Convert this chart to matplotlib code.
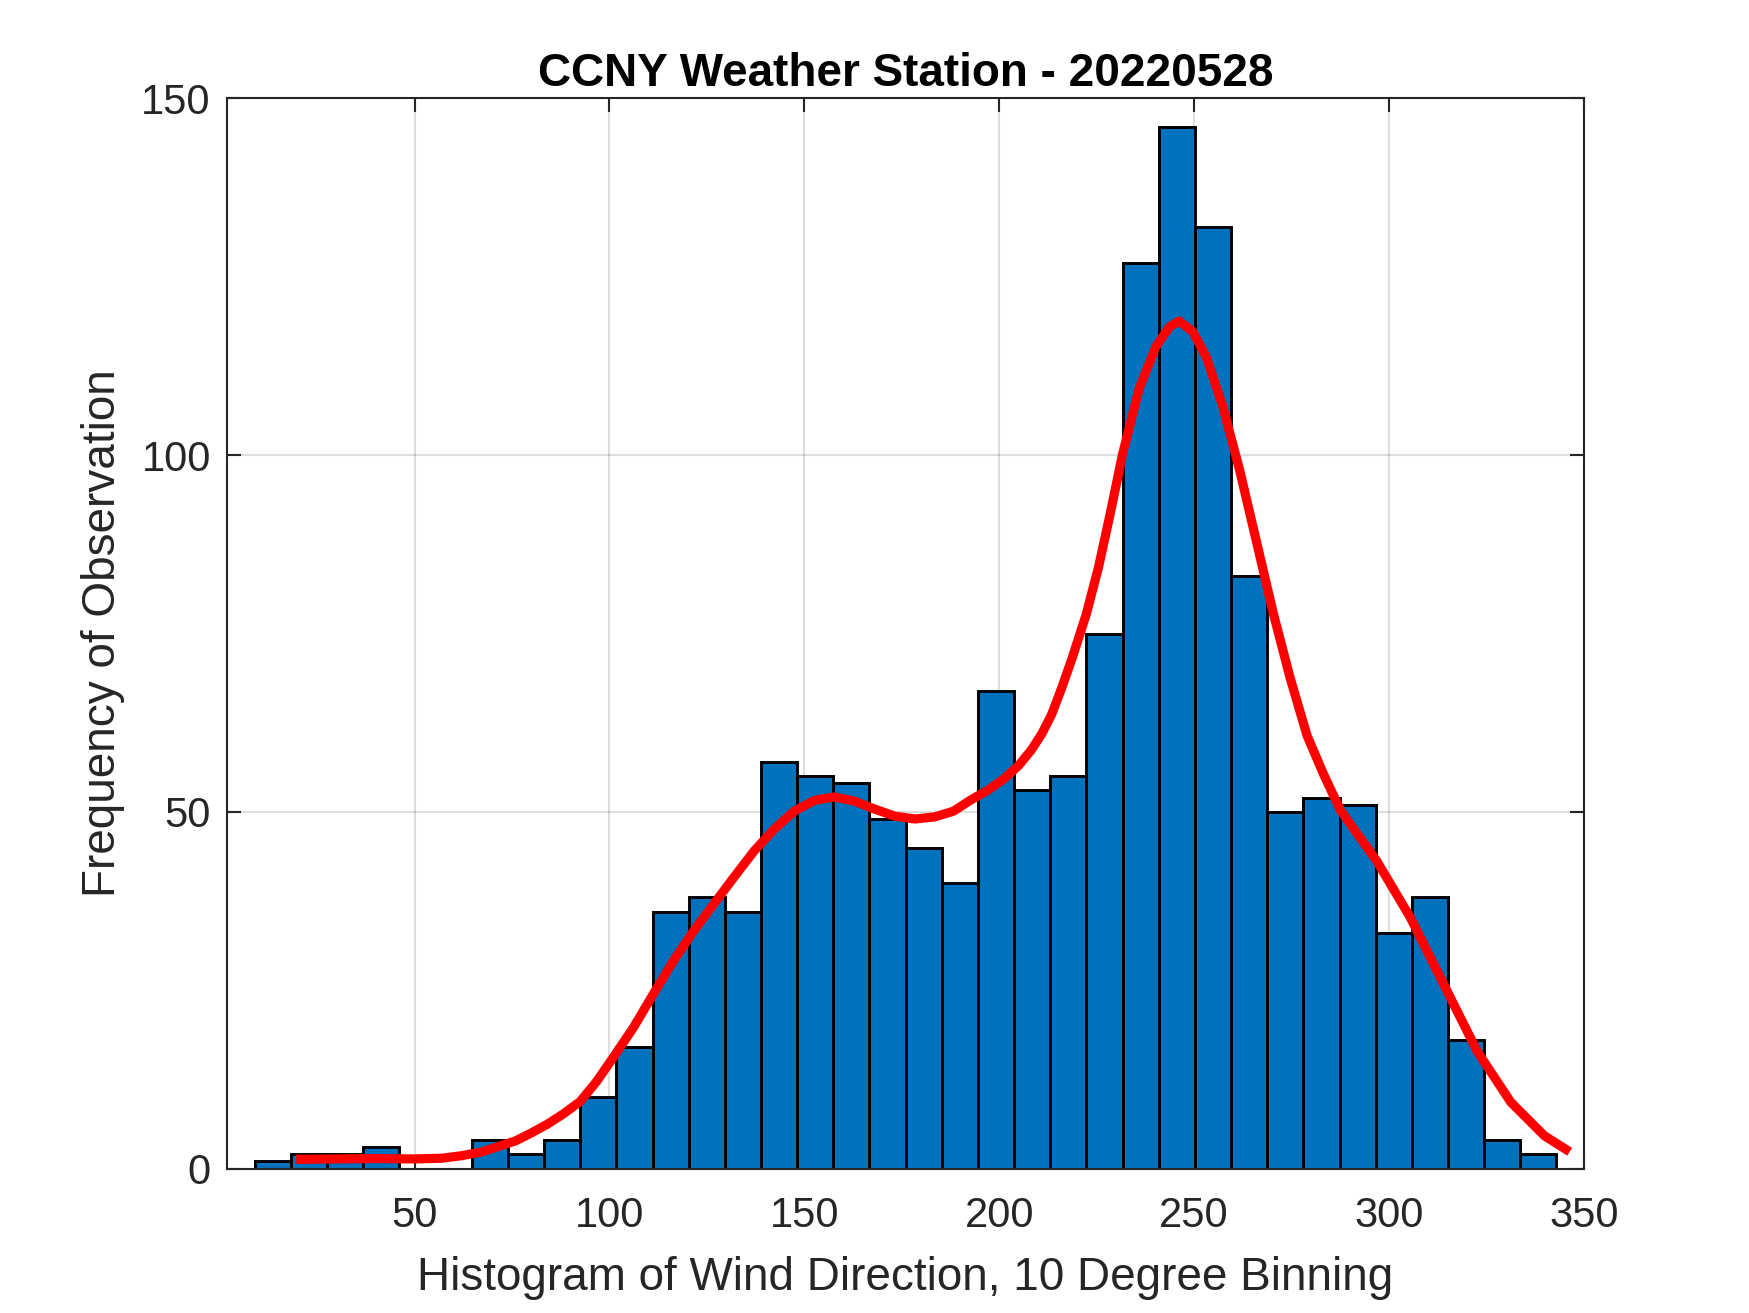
import numpy as np
import matplotlib
matplotlib.use("Agg")
from matplotlib import pyplot as plt

plt.rcParams['font.family'] = ['Liberation Sans', 'DejaVu Sans']

# wind direction histogram: 36 equal bins between min and max observed direction
dir_min = 9.0
dir_max = 343.0
n_bins = 36
counts = [1, 2, 2, 3, 0, 0, 4, 2, 4, 10, 17, 36, 38, 36, 57, 55, 54, 49,
          45, 40, 67, 53, 55, 75, 127, 146, 132, 83, 50, 52, 51, 33, 38, 18, 4, 2]

# smoothed density curve (scaled to counts)
kde_x = [20.8, 30, 40, 50, 57, 62, 67, 71, 76, 80, 84, 88, 92.5, 96.7, 101.0,
         106.2, 111.3, 116.5, 121.6, 126.8, 131.9, 137.1, 142.3, 147.4, 152.6,
         157.7, 162.9, 168.0, 173.2, 178.4, 183.5, 188.3, 192.8, 197, 201.4, 205,
         208.3, 211, 213.5, 216, 218.7, 222.3, 225.5, 228.5, 231.6, 235.9, 240.2,
         243.7, 246.2, 249.7, 253.1, 257.4, 261.8, 266.1, 270.4, 274.7, 279.0,
         283.3, 287.6, 296.9, 305.5, 314.1, 322.7, 331.3, 339.9, 345.4]
kde_y = [1.3, 1.35, 1.4, 1.35, 1.45, 1.8, 2.3, 3.0, 3.9, 5.0, 6.2, 7.6, 9.4, 12.2,
         15.6, 19.8, 24.5, 29.2, 33.3, 37.1, 40.8, 44.5, 47.6, 50.1, 51.6, 52.1,
         51.5, 50.4, 49.4, 49.0, 49.3, 50.1, 51.7, 53.0, 54.7, 56.5, 58.7, 61.0,
         63.7, 67.3, 71.5, 77.6, 84.3, 91.8, 100.0, 109.3, 115.2, 118.0, 118.8,
         117.3, 113.8, 106.8, 97.7, 87.7, 77.7, 68.7, 60.7, 55.2, 50.2, 43.1,
         35.2, 25.8, 16.4, 9.3, 4.6, 2.7]

xticks = [50, 100, 150, 200, 250, 300, 350]
yticks = [0, 50, 100, 150]

edges = np.linspace(dir_min, dir_max, n_bins + 1)

axcol = '#262626'
fig = plt.figure(figsize=(5.8333, 4.3767), dpi=300)
ax = fig.add_axes([0.13, 0.11, 0.775, 0.815])

ax.bar(edges[:-1], counts, width=np.diff(edges), align='edge',
       color='#0072BD', edgecolor='black', linewidth=0.7, zorder=2)
ax.plot(kde_x, kde_y, color='red', lw=2.2, zorder=3, solid_joinstyle='round')

ax.set_xlim(2, 350)
ax.set_ylim(0, 150)
ax.set_xticks(xticks)
ax.set_yticks(yticks)
ax.grid(True, color=axcol, alpha=0.15, lw=0.5, zorder=0)
ax.set_axisbelow(True)

ax.tick_params(direction='in', top=True, right=True, length=3.3, width=0.5,
               colors=axcol, labelsize=10)
ax.tick_params(axis='x', pad=6.5)
ax.tick_params(axis='y', pad=4)
for s in ax.spines.values():
    s.set_color(axcol)
    s.set_linewidth(0.5)

ax.set_title('CCNY Weather Station - 20220528', fontsize=11, fontweight='bold', pad=3)
ax.set_xlabel('Histogram of Wind Direction, 10 Degree Binning', fontsize=11,
              color=axcol, labelpad=5)
ax.set_ylabel('Frequency of Observation', fontsize=11, color=axcol, labelpad=4)

fig.savefig('out.png', dpi=300)
